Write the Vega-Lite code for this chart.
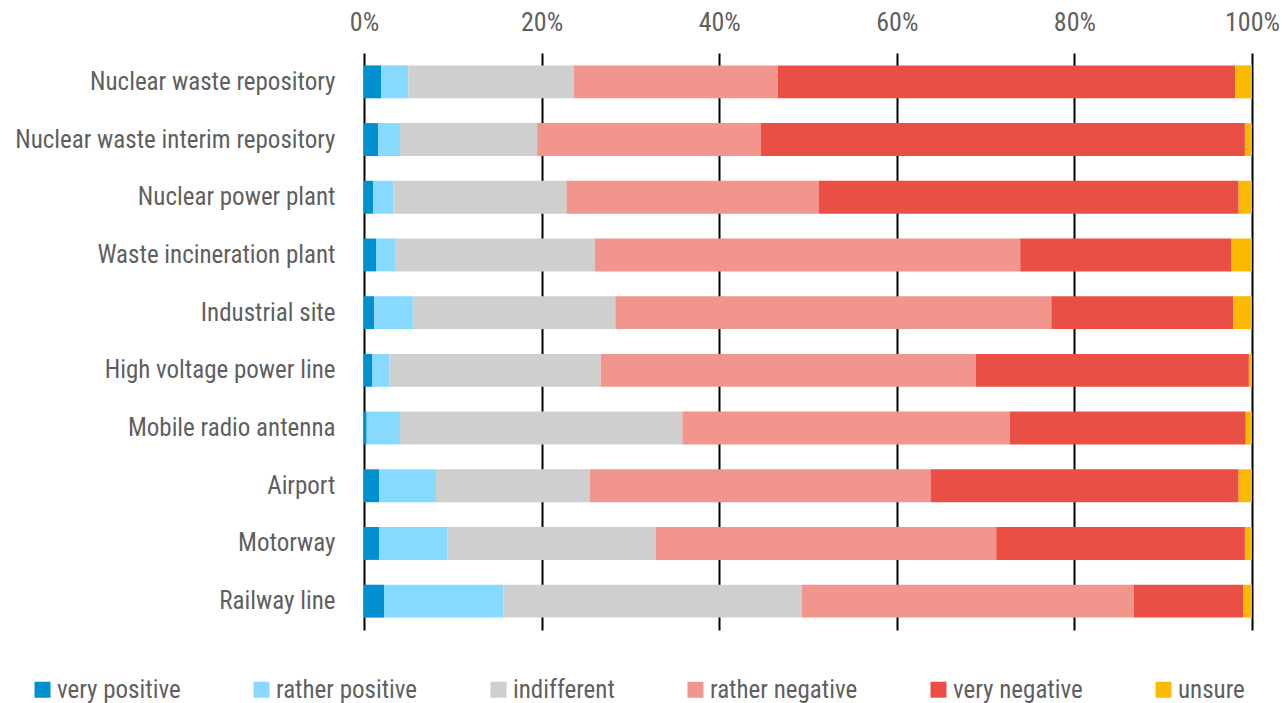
{
  "$schema": "https://vega.github.io/schema/vega-lite/v6.json",
  "width": 888,
  "height": 577,
  "autosize": {"type": "none"},
  "padding": {"left": 364, "top": 53, "right": 34, "bottom": 73},
  "background": "white",
  "config": {
    "view": {"stroke": null},
    "font": "Liberation Sans Narrow, Roboto Condensed, Roboto, sans-serif",
    "axis": {"labelFont": "Liberation Sans Narrow, Roboto Condensed, Roboto, sans-serif"},
    "legend": {"labelFont": "Liberation Sans Narrow, Roboto Condensed, Roboto, sans-serif"}
  },
  "data": {
    "values": [
      {"place": "Nuclear waste repository", "response": "very positive", "rank": 1, "value": 1.95},
      {"place": "Nuclear waste repository", "response": "rather positive", "rank": 2, "value": 3.05},
      {"place": "Nuclear waste repository", "response": "indifferent", "rank": 3, "value": 18.65},
      {"place": "Nuclear waste repository", "response": "rather negative", "rank": 4, "value": 22.95},
      {"place": "Nuclear waste repository", "response": "very negative", "rank": 5, "value": 51.5},
      {"place": "Nuclear waste repository", "response": "unsure", "rank": 6, "value": 1.9},
      {"place": "Nuclear waste interim repository", "response": "very positive", "rank": 1, "value": 1.6},
      {"place": "Nuclear waste interim repository", "response": "rather positive", "rank": 2, "value": 2.45},
      {"place": "Nuclear waste interim repository", "response": "indifferent", "rank": 3, "value": 15.45},
      {"place": "Nuclear waste interim repository", "response": "rather negative", "rank": 4, "value": 25.2},
      {"place": "Nuclear waste interim repository", "response": "very negative", "rank": 5, "value": 54.5},
      {"place": "Nuclear waste interim repository", "response": "unsure", "rank": 6, "value": 0.8},
      {"place": "Nuclear power plant", "response": "very positive", "rank": 1, "value": 1.05},
      {"place": "Nuclear power plant", "response": "rather positive", "rank": 2, "value": 2.25},
      {"place": "Nuclear power plant", "response": "indifferent", "rank": 3, "value": 19.5},
      {"place": "Nuclear power plant", "response": "rather negative", "rank": 4, "value": 28.4},
      {"place": "Nuclear power plant", "response": "very negative", "rank": 5, "value": 47.3},
      {"place": "Nuclear power plant", "response": "unsure", "rank": 6, "value": 1.5},
      {"place": "Waste incineration plant", "response": "very positive", "rank": 1, "value": 1.35},
      {"place": "Waste incineration plant", "response": "rather positive", "rank": 2, "value": 2.15},
      {"place": "Waste incineration plant", "response": "indifferent", "rank": 3, "value": 22.5},
      {"place": "Waste incineration plant", "response": "rather negative", "rank": 4, "value": 47.9},
      {"place": "Waste incineration plant", "response": "very negative", "rank": 5, "value": 23.8},
      {"place": "Waste incineration plant", "response": "unsure", "rank": 6, "value": 2.3},
      {"place": "Industrial site", "response": "very positive", "rank": 1, "value": 1.15},
      {"place": "Industrial site", "response": "rather positive", "rank": 2, "value": 4.35},
      {"place": "Industrial site", "response": "indifferent", "rank": 3, "value": 22.8},
      {"place": "Industrial site", "response": "rather negative", "rank": 4, "value": 49.1},
      {"place": "Industrial site", "response": "very negative", "rank": 5, "value": 20.5},
      {"place": "Industrial site", "response": "unsure", "rank": 6, "value": 2.1},
      {"place": "High voltage power line", "response": "very positive", "rank": 1, "value": 0.9},
      {"place": "High voltage power line", "response": "rather positive", "rank": 2, "value": 1.95},
      {"place": "High voltage power line", "response": "indifferent", "rank": 3, "value": 23.8},
      {"place": "High voltage power line", "response": "rather negative", "rank": 4, "value": 42.25},
      {"place": "High voltage power line", "response": "very negative", "rank": 5, "value": 30.75},
      {"place": "High voltage power line", "response": "unsure", "rank": 6, "value": 0.35},
      {"place": "Mobile radio antenna", "response": "very positive", "rank": 1, "value": 0.3},
      {"place": "Mobile radio antenna", "response": "rather positive", "rank": 2, "value": 3.75},
      {"place": "Mobile radio antenna", "response": "indifferent", "rank": 3, "value": 31.8},
      {"place": "Mobile radio antenna", "response": "rather negative", "rank": 4, "value": 36.9},
      {"place": "Mobile radio antenna", "response": "very negative", "rank": 5, "value": 26.55},
      {"place": "Mobile radio antenna", "response": "unsure", "rank": 6, "value": 0.7},
      {"place": "Airport", "response": "very positive", "rank": 1, "value": 1.7},
      {"place": "Airport", "response": "rather positive", "rank": 2, "value": 6.4},
      {"place": "Airport", "response": "indifferent", "rank": 3, "value": 17.35},
      {"place": "Airport", "response": "rather negative", "rank": 4, "value": 38.4},
      {"place": "Airport", "response": "very negative", "rank": 5, "value": 34.65},
      {"place": "Airport", "response": "unsure", "rank": 6, "value": 1.5},
      {"place": "Motorway", "response": "very positive", "rank": 1, "value": 1.7},
      {"place": "Motorway", "response": "rather positive", "rank": 2, "value": 7.7},
      {"place": "Motorway", "response": "indifferent", "rank": 3, "value": 23.45},
      {"place": "Motorway", "response": "rather negative", "rank": 4, "value": 38.35},
      {"place": "Motorway", "response": "very negative", "rank": 5, "value": 28.0},
      {"place": "Motorway", "response": "unsure", "rank": 6, "value": 0.8},
      {"place": "Railway line", "response": "very positive", "rank": 1, "value": 2.25},
      {"place": "Railway line", "response": "rather positive", "rank": 2, "value": 13.45},
      {"place": "Railway line", "response": "indifferent", "rank": 3, "value": 33.6},
      {"place": "Railway line", "response": "rather negative", "rank": 4, "value": 37.4},
      {"place": "Railway line", "response": "very negative", "rank": 5, "value": 12.3},
      {"place": "Railway line", "response": "unsure", "rank": 6, "value": 1.0}
    ]
  },
  "mark": {"type": "bar"},
  "encoding": {
    "y": {
      "field": "place",
      "type": "nominal",
      "sort": null,
      "title": null,
      "scale": {"paddingInner": 0.43, "paddingOuter": 0.215},
      "axis": {
        "domain": false,
        "ticks": false,
        "labelPadding": 29,
        "labelFontSize": 25,
        "labelColor": "#5f5f5f",
        "labelLimit": 400
      }
    },
    "x": {
      "field": "value",
      "type": "quantitative",
      "stack": "normalize",
      "title": null,
      "scale": {"domain": [0, 1], "nice": false},
      "axis": {
        "orient": "top",
        "values": [0, 0.2, 0.4, 0.6, 0.8, 1],
        "format": ".0%",
        "domain": false,
        "ticks": false,
        "tickSize": 0,
        "labelFlush": false,
        "labelPadding": 18,
        "labelFontSize": 26,
        "labelColor": "#5f5f5f",
        "grid": true,
        "gridColor": "#000000",
        "gridWidth": 2,
        "gridOpacity": 1
      }
    },
    "order": {"field": "rank", "type": "quantitative", "sort": "ascending"},
    "color": {
      "field": "response",
      "type": "nominal",
      "sort": ["very positive", "rather positive", "indifferent", "rather negative", "very negative", "unsure"],
      "scale": {
        "domain": ["very positive", "rather positive", "indifferent", "rather negative", "very negative", "unsure"],
        "range": ["#0090d0", "#88d9ff", "#d0cfcf", "#f2958d", "#ea4f46", "#fbb900"]
      },
      "legend": {
        "title": null,
        "orient": "none",
        "direction": "horizontal",
        "legendX": -334,
        "legendY": 624,
        "symbolType": "square",
        "symbolSize": 256,
        "symbolStrokeWidth": 0,
        "symbolOpacity": 1,
        "labelFontSize": 25,
        "labelColor": "#5f5f5f",
        "labelOffset": 2,
        "columnPadding": 68,
        "labelLimit": 300
      }
    }
  }
}
